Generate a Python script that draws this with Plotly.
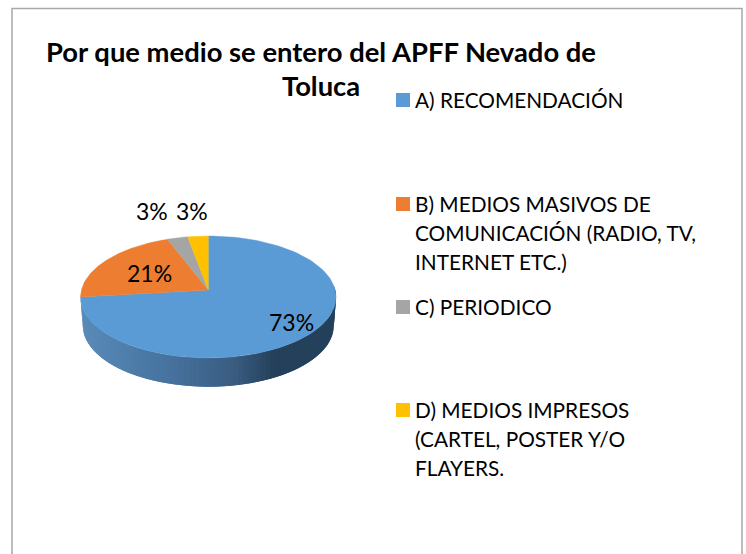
import numpy as np
import plotly.graph_objects as go

title_lines = ["Por que medio se entero del APFF Nevado de", "Toluca"]
categories = [
    ["A) RECOMENDACIÓN"],
    ["B) MEDIOS MASIVOS DE", "COMUNICACIÓN (RADIO, TV,", "INTERNET ETC.)"],
    ["C) PERIODICO"],
    ["D) MEDIOS IMPRESOS", "(CARTEL, POSTER Y/O", "FLAYERS."],
]
values = [73.2, 21.0, 2.9, 2.9]
colors = ["#5B9BD5", "#ED7D31", "#A5A5A5", "#FFC000"]
legend_y = [100, 204, 307, 410]
label_pos = [(291, 322), (149, 273), (152, 211), (192, 211)]

W, H = 746, 554
CX, APEX_Y, K = 208.3, 290.0, 126.9
A, C = -26.9, 0.1148
DEPTH = 28.7
FONT = "Lato"


def project(t_deg, drop=0.0, shrink=1.0):
    t = np.radians(t_deg)
    u, v = np.sin(t), np.cos(t)
    d = C * v + 1
    return CX + shrink * K * u / d, (A * v + APEX_Y) / d + drop


def lerp_color(x):
    stops = [(84, (88, 138, 184)), (170, (70, 114, 158)), (235, (58, 92, 128)), (275, (36, 64, 90)), (336, (36, 64, 90))]
    for (x0, c0), (x1, c1) in zip(stops, stops[1:]):
        if x <= x1:
            f = max(0, (x - x0) / (x1 - x0))
            return "rgb(%d,%d,%d)" % tuple(round(a + (b - a) * f) for a, b in zip(c0, c1))
    return "rgb(36,64,90)"


fig = go.Figure()

# Side wall of the disc: visible part of the first slice, in overlapping strips
end = values[0] * 3.6
edges = np.linspace(86, end, 90)
step = edges[1] - edges[0]
for t0 in edges[:-1]:
    ts = np.linspace(t0, min(t0 + 2 * step, end), 5)
    xt, yt = project(ts)
    xb, yb = project(ts[::-1], DEPTH, 0.982)
    col = lerp_color(float(project(t0 + step / 2)[0]))
    fig.add_trace(go.Scatter(
        x=np.r_[xt, xb, xt[0]], y=np.r_[yt, yb, yt[0]], mode="lines", fill="toself",
        fillcolor=col, line=dict(width=0), hoverinfo="skip", showlegend=False))

# Top face: slices clockwise from 12 o'clock
cum = np.cumsum([0] + values)
for i, col in enumerate(colors):
    ts = np.linspace(cum[i] * 3.6, cum[i + 1] * 3.6, 120)
    x, y = project(ts)
    fig.add_trace(go.Scatter(
        x=np.r_[CX, x, CX], y=np.r_[APEX_Y, y, APEX_Y], mode="lines", fill="toself",
        fillcolor=col, line=dict(color=col, width=0.4), showlegend=False, hoverinfo="skip"))

# Legend swatches
for col, ly in zip(colors, legend_y):
    fig.add_trace(go.Scatter(x=[403], y=[ly], mode="markers",
                             marker=dict(symbol="square", size=14, color=col),
                             showlegend=False, hoverinfo="skip"))

ann = []
for line, y in zip(title_lines, [51, 85.5]):
    ann.append(dict(x=321, y=y, text=f"<b>{line}</b>", showarrow=False, xanchor="center", yanchor="middle",
                    font=dict(family=FONT, size=27.4, color="#000000")))
for lines, ly in zip(categories, legend_y):
    for j, line in enumerate(lines):
        ann.append(dict(x=413, y=ly - 1 + j * 29, text=line, showarrow=False, xanchor="left", yanchor="middle",
                        font=dict(family=FONT, size=20.8, color="#000000")))
for v, (lx, ly) in zip(values, label_pos):
    ann.append(dict(x=lx, y=ly, text=f"{round(v)}%", showarrow=False, xanchor="center", yanchor="middle",
                    font=dict(family=FONT, size=23, color="#000000")))

fig.update_layout(
    width=W, height=H, margin=dict(l=0, r=0, t=0, b=0),
    paper_bgcolor="#FFFFFF", plot_bgcolor="#FFFFFF", showlegend=False,
    xaxis=dict(range=[0, W], visible=False, fixedrange=True),
    yaxis=dict(range=[H, 0], visible=False, fixedrange=True),
    annotations=ann,
    shapes=[dict(type="rect", x0=12, y0=8.5, x1=742, y1=H + 10, line=dict(color="#A8A8A8", width=1.5),
                 fillcolor="rgba(0,0,0,0)", layer="below")],
)
fig.write_html("out.html", config={"displayModeBar": False},
               post_script="document.body.style.margin='0';")
